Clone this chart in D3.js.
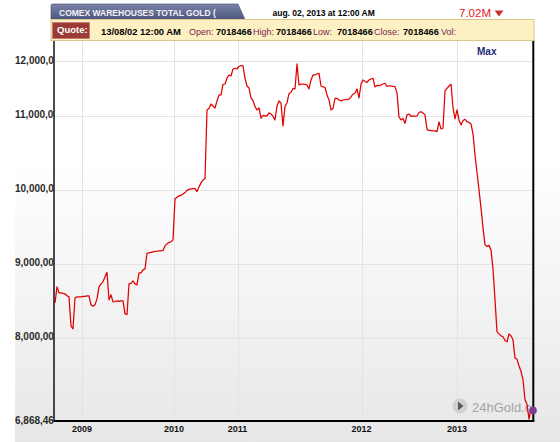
<!DOCTYPE html>
<html><head><meta charset="utf-8">
<script src="https://cdn.jsdelivr.net/npm/d3@7/dist/d3.min.js"></script>
<style>
html,body{margin:0;padding:0;background:#fff;}
svg{display:block;font-family:"Liberation Sans",Arial,Helvetica,sans-serif;}
</style>
</head><body>
<svg id="chart" width="560" height="442"></svg>
<script>
// ---- DATA (COMEX warehouses total gold, ounces, in millions) ----
const closeMillions = [
 8.473,8.689,8.608,8.608,8.601,8.595,8.568,8.554,8.162,8.122,
 8.541,8.554,8.554,8.554,8.561,8.561,8.568,8.568,8.446,8.426,
 8.446,8.527,8.689,8.730,8.757,8.824,8.885,8.514,8.581,8.486,
 8.491,8.500,8.493,8.500,8.500,8.324,8.315,8.730,8.736,8.770,
 8.730,8.716,8.878,8.878,8.919,8.932,9.142,9.149,9.155,9.162,
 9.169,9.172,9.176,9.176,9.182,9.243,9.270,9.291,9.297,9.324,
 9.878,9.901,9.919,9.926,9.946,9.964,9.993,10.007,10.014,10.018,
 10.018,9.977,10.041,10.095,10.135,10.151,11.081,11.101,11.162,11.135,
 11.108,11.203,11.284,11.284,11.426,11.432,11.514,11.554,11.541,11.635,
 11.645,11.635,11.669,11.682,11.676,11.509,11.405,11.378,11.243,11.209,
 11.126,11.081,11.108,10.969,11.007,11.000,11.000,11.041,11.027,10.993,
 10.946,11.135,11.203,11.172,10.865,11.128,11.176,11.304,11.318,11.372,
 11.365,11.703,11.419,11.432,11.432,11.426,11.419,11.365,11.486,11.554,
 11.554,11.568,11.577,11.405,11.392,11.388,11.284,11.216,11.081,11.101,
 11.239,11.239,11.216,11.203,11.216,11.219,11.223,11.226,11.257,11.297,
 11.307,11.365,11.243,11.432,11.486,11.466,11.453,11.486,11.500,11.509,
 11.392,11.412,11.409,11.419,11.432,11.442,11.399,11.405,11.405,11.399,
 11.396,11.311,10.986,10.946,10.966,10.901,11.014,11.027,10.993,11.000,
 10.996,11.000,11.047,11.058,11.041,11.014,10.818,10.804,10.801,10.797,
 10.797,10.788,10.919,10.824,10.834,11.338,11.374,11.405,11.428,11.115,
 10.959,11.081,10.946,10.878,10.939,10.955,10.919,10.912,10.892,10.757,
 10.473,10.236,10.000,9.757,9.486,9.257,9.236,9.250,9.189,8.932,
 8.514,8.081,8.054,8.027,8.014,7.964,7.946,8.054,8.027,7.973,
 7.726,7.709,7.622,7.545,7.432,7.162,7.101,6.900,7.047,7.018466
];
const yearLabels    = ["2009", "2010", "2011", "2012", "2013"];
const yearTickIndex = [13.5, 59.5, 91.25, 153.25, 201];
const yTickValues   = [6868467, 8000000, 9000000, 10000000, 11000000, 11743000];
const yTickLabels   = ["6,868,467", "8,000,000", "9,000,000", "10,000,000", "11,000,000", "12,000,000"];
const titleText     = "COMEX WAREHOUSES TOTAL GOLD (";
const dateText      = "aug. 02, 2013 at 12:00 AM";
const lastText      = "7.02M";
const quoteDate     = "13/08/02 12:00 AM";
const quoteNames    = ["Open:", "High:", "Low:", "Close:", "Vol:"];
const quoteValues   = ["7018466", "7018466", "7018466", "7018466", ""];
const quoteNameX    = [189, 253, 313, 374, 441];
const quoteValueX   = [216, 276, 337, 403, 0];

// ---- LAYOUT ----
const L = 54, R = 533.3, T = 40, B = 421;
const svg = d3.select("#chart");
const defs = svg.append("defs");

const bg = defs.append("linearGradient").attr("id","bg").attr("x1",0).attr("y1",0).attr("x2",0).attr("y2",1);
bg.append("stop").attr("offset","0%").attr("stop-color","#ffffff");
bg.append("stop").attr("offset","30%").attr("stop-color","#ffffff");
bg.append("stop").attr("offset","100%").attr("stop-color","#e7e7e7");

const tabG = defs.append("linearGradient").attr("id","tab").attr("x1",0).attr("y1",0).attr("x2",0).attr("y2",1);
tabG.append("stop").attr("offset","0%").attr("stop-color","#7a83a8");
tabG.append("stop").attr("offset","100%").attr("stop-color","#4d567f");

defs.append("clipPath").attr("id","ylab").append("rect").attr("x",0).attr("y",30).attr("width",L).attr("height",412);
defs.append("clipPath").attr("id","plot").append("rect").attr("x",L).attr("y",T).attr("width",R-L).attr("height",B-T);

svg.append("rect").attr("x",15).attr("y",T).attr("width",545).attr("height",442-T).attr("fill","url(#bg)");

const x = d3.scaleLinear().domain([0, closeMillions.length - 1]).range([55, 533]);
const y = d3.scaleLinear().domain([6868467, 11743000]).range([421.5, 61]);

// gridlines
svg.append("g").selectAll("line").data(yTickValues.slice(1)).join("line")
  .attr("x1", L).attr("x2", R).attr("y1", d => Math.round(y(d)) + 0.5).attr("y2", d => Math.round(y(d)) + 0.5)
  .attr("stroke", "#e3e3e3").attr("stroke-width", 1);
svg.append("g").selectAll("line").data(yearTickIndex).join("line")
  .attr("x1", d => Math.round(x(d)) + 0.5).attr("x2", d => Math.round(x(d)) + 0.5).attr("y1", T).attr("y2", B)
  .attr("stroke", "#e3e3e3").attr("stroke-width", 1);

// watermark
const wm = svg.append("g").attr("clip-path","url(#plot)");
wm.append("circle").attr("cx",460).attr("cy",406).attr("r",7.5).attr("fill","#d2d2d2");
wm.append("path").attr("d","M458,401.5 L463.5,406 L458,410.5 Z").attr("fill","#5a5a5a");
wm.append("text").attr("x",472).attr("y",411.5).attr("font-size","13px").attr("fill","#a3a3a3").text("24hGold.com");

// data line
const line = d3.line().x((d, i) => x(i)).y(d => y(d * 1e6));
svg.append("path").datum(closeMillions).attr("d", line)
  .attr("fill","none").attr("stroke","#e00000").attr("stroke-width",1.25).attr("stroke-linejoin","round");

// frame
svg.append("line").attr("x1",L).attr("x2",L).attr("y1",T).attr("y2",B+1).attr("stroke","#000").attr("stroke-width",1.4);
svg.append("line").attr("x1",L).attr("x2",R+1).attr("y1",B).attr("y2",B).attr("stroke","#000").attr("stroke-width",1.8);
svg.append("line").attr("x1",R).attr("x2",R).attr("y1",T).attr("y2",B+1).attr("stroke","#000").attr("stroke-width",2);

// last point marker
svg.append("circle").attr("cx", x(closeMillions.length - 1)).attr("cy", y(closeMillions[closeMillions.length - 1] * 1e6))
  .attr("r", 3.8).attr("fill", "#7d3b96");

// y tick labels (clipped at the axis like the original)
svg.append("g").attr("clip-path","url(#ylab)").selectAll("text").data(yTickValues).join("text")
  .attr("x", 15).attr("y", d => y(d) + 2.5)
  .attr("font-size","10px").attr("font-weight","bold").attr("fill","#2b2b2b")
  .text((d, i) => yTickLabels[i]);

// x tick labels
svg.append("g").selectAll("text").data(yearTickIndex).join("text")
  .attr("x", d => x(d)).attr("y", 432).attr("text-anchor","middle")
  .attr("font-size","9px").attr("font-weight","bold").attr("fill","#111")
  .text((d, i) => yearLabels[i]);

// "Max" label
svg.append("text").attr("x",477).attr("y",55).attr("font-size","10px").attr("font-weight","bold").attr("fill","#1f2a78").text("Max");

// ---- HEADER ----
svg.append("path").attr("d","M51,19.5 L51,5.5 Q51,4 52.5,4 L238,4 L245,19.5 Z").attr("fill","url(#tab)").attr("stroke","#3f4668").attr("stroke-width",0.6);
svg.append("text").attr("x",59).attr("y",15.5).attr("font-size","8.5px").attr("font-weight","bold").attr("fill","#f2f2f7").text(titleText);
svg.append("text").attr("x",272.5).attr("y",15.5).attr("font-size","8.5px").attr("font-weight","bold").attr("fill","#000").text(dateText);
svg.append("text").attr("x",459).attr("y",17).attr("font-size","11.5px").attr("fill","#dd1a1a").text(lastText);
svg.append("path").attr("d","M494.5,10.5 L503.5,10.5 L499,16.5 Z").attr("fill","#c9302c");

// quote bar
svg.append("rect").attr("x",51).attr("y",19.5).attr("width",483).attr("height",21).attr("fill","#fdf1c4").attr("stroke","#dcc68c").attr("stroke-width",1);
svg.append("rect").attr("x",52.5).attr("y",22.5).attr("width",37).attr("height",16).attr("fill","#9b3b36").attr("stroke","#c7766f").attr("stroke-width",0.8);
svg.append("text").attr("x",57).attr("y",33.3).attr("font-size","9.5px").attr("font-weight","bold").attr("fill","#fff").text("Quote:");
svg.append("text").attr("x",101).attr("y",35).attr("font-size","9.4px").attr("font-weight","bold").attr("fill","#000").text(quoteDate);
svg.append("g").selectAll("text").data(quoteNames).join("text")
  .attr("x",(d,i)=>quoteNameX[i]).attr("y",35).attr("font-size","9px").attr("fill","#7a1f4d").text(d=>d);
svg.append("g").selectAll("text").data(quoteValues).join("text")
  .attr("x",(d,i)=>quoteValueX[i]).attr("y",35).attr("font-size","9.2px").attr("font-weight","bold").attr("fill","#000").text(d=>d);
</script>
</body></html>
